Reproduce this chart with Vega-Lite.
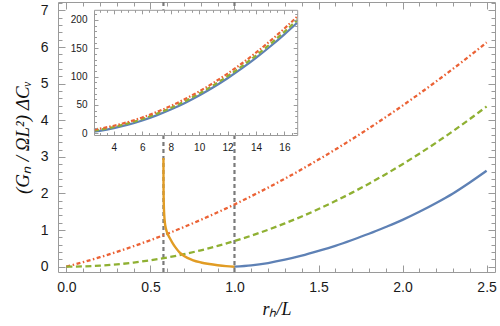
{
  "$schema": "https://vega.github.io/schema/vega-lite/v6.json",
  "width": 437,
  "height": 270,
  "autosize": {"type": "none"},
  "padding": {"left": 58, "top": 2, "right": 5, "bottom": 54},
  "config": {
    "view": {"stroke": null},
    "axis": {
      "grid": false,
      "domainColor": "#9a9a9a",
      "tickColor": "#9a9a9a",
      "domainWidth": 1,
      "tickWidth": 1,
      "labelFont": "Liberation Sans",
      "labelColor": "#1a1a1a",
      "labelFontSize": 14,
      "titleFont": "Liberation Serif",
      "titleFontStyle": "italic",
      "titleFontWeight": "normal",
      "titleColor": "#111111",
      "titleFontSize": 19
    }
  },
  "datasets": {
    "vlines": [{"x": 0.57735}, {"x": 1.0}],
    "main": [
      {"x": 0.0, "y": 0.0, "s": "red"}, {"x": 0.1, "y": 0.125, "s": "red"}, {"x": 0.2, "y": 0.26, "s": "red"}, {"x": 0.3, "y": 0.405, "s": "red"}, {"x": 0.4, "y": 0.56, "s": "red"}, {"x": 0.5, "y": 0.725, "s": "red"}, {"x": 0.6, "y": 0.9, "s": "red"}, {"x": 0.7, "y": 1.085, "s": "red"}, {"x": 0.8, "y": 1.28, "s": "red"}, {"x": 0.9, "y": 1.485, "s": "red"}, {"x": 1.0, "y": 1.7, "s": "red"}, {"x": 1.1, "y": 1.925, "s": "red"}, {"x": 1.2, "y": 2.16, "s": "red"}, {"x": 1.3, "y": 2.405, "s": "red"}, {"x": 1.4, "y": 2.66, "s": "red"}, {"x": 1.5, "y": 2.925, "s": "red"}, {"x": 1.6, "y": 3.2, "s": "red"}, {"x": 1.7, "y": 3.485, "s": "red"}, {"x": 1.8, "y": 3.78, "s": "red"}, {"x": 1.9, "y": 4.085, "s": "red"}, {"x": 2.0, "y": 4.4, "s": "red"}, {"x": 2.1, "y": 4.725, "s": "red"}, {"x": 2.2, "y": 5.06, "s": "red"}, {"x": 2.3, "y": 5.405, "s": "red"}, {"x": 2.4, "y": 5.76, "s": "red"}, {"x": 2.5, "y": 6.125, "s": "red"},
      {"x": 0.0, "y": 0.0, "s": "green"}, {"x": 0.1, "y": 0.007, "s": "green"}, {"x": 0.2, "y": 0.028, "s": "green"}, {"x": 0.3, "y": 0.063, "s": "green"}, {"x": 0.4, "y": 0.112, "s": "green"}, {"x": 0.5, "y": 0.175, "s": "green"}, {"x": 0.6, "y": 0.252, "s": "green"}, {"x": 0.7, "y": 0.343, "s": "green"}, {"x": 0.8, "y": 0.448, "s": "green"}, {"x": 0.9, "y": 0.567, "s": "green"}, {"x": 1.0, "y": 0.7, "s": "green"}, {"x": 1.1, "y": 0.847, "s": "green"}, {"x": 1.2, "y": 1.008, "s": "green"}, {"x": 1.3, "y": 1.183, "s": "green"}, {"x": 1.4, "y": 1.372, "s": "green"}, {"x": 1.5, "y": 1.575, "s": "green"}, {"x": 1.6, "y": 1.792, "s": "green"}, {"x": 1.7, "y": 2.023, "s": "green"}, {"x": 1.8, "y": 2.268, "s": "green"}, {"x": 1.9, "y": 2.527, "s": "green"}, {"x": 2.0, "y": 2.8, "s": "green"}, {"x": 2.1, "y": 3.087, "s": "green"}, {"x": 2.2, "y": 3.388, "s": "green"}, {"x": 2.3, "y": 3.703, "s": "green"}, {"x": 2.4, "y": 4.032, "s": "green"}, {"x": 2.5, "y": 4.375, "s": "green"},
      {"x": 1.0, "y": 0.0, "s": "blue"}, {"x": 1.1, "y": 0.035, "s": "blue"}, {"x": 1.2, "y": 0.1, "s": "blue"}, {"x": 1.3, "y": 0.19, "s": "blue"}, {"x": 1.4, "y": 0.3, "s": "blue"}, {"x": 1.5, "y": 0.43, "s": "blue"}, {"x": 1.6, "y": 0.57, "s": "blue"}, {"x": 1.7, "y": 0.73, "s": "blue"}, {"x": 1.8, "y": 0.9, "s": "blue"}, {"x": 1.9, "y": 1.085, "s": "blue"}, {"x": 2.0, "y": 1.28, "s": "blue"}, {"x": 2.1, "y": 1.5, "s": "blue"}, {"x": 2.2, "y": 1.74, "s": "blue"}, {"x": 2.3, "y": 2.0, "s": "blue"}, {"x": 2.4, "y": 2.3, "s": "blue"}, {"x": 2.5, "y": 2.62, "s": "blue"},
      {"x": 0.5774, "y": 2.97, "s": "orange"}, {"x": 0.5776, "y": 2.5, "s": "orange"}, {"x": 0.578, "y": 2.1, "s": "orange"}, {"x": 0.5795, "y": 1.7, "s": "orange"}, {"x": 0.582, "y": 1.42, "s": "orange"}, {"x": 0.586, "y": 1.2, "s": "orange"}, {"x": 0.592, "y": 1.04, "s": "orange"}, {"x": 0.6, "y": 0.92, "s": "orange"}, {"x": 0.614, "y": 0.79, "s": "orange"}, {"x": 0.63, "y": 0.66, "s": "orange"}, {"x": 0.65, "y": 0.52, "s": "orange"}, {"x": 0.673, "y": 0.39, "s": "orange"}, {"x": 0.7, "y": 0.29, "s": "orange"}, {"x": 0.75, "y": 0.18, "s": "orange"}, {"x": 0.8, "y": 0.115, "s": "orange"}, {"x": 0.85, "y": 0.072, "s": "orange"}, {"x": 0.9, "y": 0.04, "s": "orange"}, {"x": 0.95, "y": 0.015, "s": "orange"}, {"x": 1.0, "y": 0.0, "s": "orange"}
    ],
    "box": [{"x0": 2.6, "x1": 16.9, "y0": -3, "y1": 218}],
    "inset": [
      {"x": 2.6, "y": 2.93, "s": "blue"}, {"x": 3, "y": 4.42, "s": "blue"}, {"x": 4, "y": 9.12, "s": "blue"}, {"x": 5, "y": 15.22, "s": "blue"}, {"x": 6, "y": 22.72, "s": "blue"}, {"x": 7, "y": 31.62, "s": "blue"}, {"x": 8, "y": 41.92, "s": "blue"}, {"x": 9, "y": 53.62, "s": "blue"}, {"x": 10, "y": 66.72, "s": "blue"}, {"x": 11, "y": 81.22, "s": "blue"}, {"x": 12, "y": 97.12, "s": "blue"}, {"x": 13, "y": 114.42, "s": "blue"}, {"x": 14, "y": 133.12, "s": "blue"}, {"x": 15, "y": 153.22, "s": "blue"}, {"x": 16, "y": 174.72, "s": "blue"}, {"x": 16.9, "y": 195.24, "s": "blue"},
      {"x": 2.6, "y": 4.73, "s": "green"}, {"x": 3, "y": 6.3, "s": "green"}, {"x": 4, "y": 11.2, "s": "green"}, {"x": 5, "y": 17.5, "s": "green"}, {"x": 6, "y": 25.2, "s": "green"}, {"x": 7, "y": 34.3, "s": "green"}, {"x": 8, "y": 44.8, "s": "green"}, {"x": 9, "y": 56.7, "s": "green"}, {"x": 10, "y": 70.0, "s": "green"}, {"x": 11, "y": 84.7, "s": "green"}, {"x": 12, "y": 100.8, "s": "green"}, {"x": 13, "y": 118.3, "s": "green"}, {"x": 14, "y": 137.2, "s": "green"}, {"x": 15, "y": 157.5, "s": "green"}, {"x": 16, "y": 179.2, "s": "green"}, {"x": 16.9, "y": 199.9, "s": "green"},
      {"x": 2.6, "y": 6.51, "s": "red"}, {"x": 3, "y": 8.2, "s": "red"}, {"x": 4, "y": 13.4, "s": "red"}, {"x": 5, "y": 20.0, "s": "red"}, {"x": 6, "y": 28.0, "s": "red"}, {"x": 7, "y": 37.4, "s": "red"}, {"x": 8, "y": 48.2, "s": "red"}, {"x": 9, "y": 60.4, "s": "red"}, {"x": 10, "y": 74.0, "s": "red"}, {"x": 11, "y": 89.0, "s": "red"}, {"x": 12, "y": 105.4, "s": "red"}, {"x": 13, "y": 123.2, "s": "red"}, {"x": 14, "y": 142.4, "s": "red"}, {"x": 15, "y": 163.0, "s": "red"}, {"x": 16, "y": 185.0, "s": "red"}, {"x": 16.9, "y": 206.0, "s": "red"}
    ]
  },
  "layer": [
    {
      "layer": [
        {
          "data": {"name": "vlines"},
          "mark": {"type": "rule", "color": "#7a7a7a", "strokeWidth": 2.2, "strokeDash": [4, 3]},
          "encoding": {
            "x": {"field": "x", "type": "quantitative",
              "scale": {"domain": [-0.05, 2.55], "nice": false, "zero": false},
              "axis": {"orient": "bottom", "values": [0, 0.5, 1, 1.5, 2, 2.5], "format": ".1f", "tickSize": -7, "labelPadding": 15, "title": "rₕ/L", "titleFontSize": 18, "titlePadding": 6}}
          }
        },
        {
          "data": {"name": "main"},
          "transform": [{"filter": "datum.s === 'red'"}],
          "mark": {"type": "line", "color": "#EB6235", "strokeWidth": 2.3, "strokeDash": [4, 2.5, 1.5, 2.5], "interpolate": "monotone", "clip": true},
          "encoding": {
            "x": {"field": "x", "type": "quantitative",
              "scale": {"domain": [-0.05, 2.55], "nice": false, "zero": false},
              "axis": {"orient": "top", "values": [0, 0.5, 1, 1.5, 2, 2.5], "labels": false, "tickSize": -7, "title": null}},
            "y": {"field": "y", "type": "quantitative",
              "scale": {"domain": [-0.145, 7.23], "nice": false, "zero": false},
              "axis": {"orient": "left", "values": [0, 1, 2, 3, 4, 5, 6, 7], "tickSize": -7, "labelPadding": 17, "title": "(Gₙ / ΩL²) ΔCᵥ", "titlePadding": 8}}
          }
        },
        {
          "data": {"name": "main"},
          "transform": [{"filter": "datum.s === 'green'"}],
          "mark": {"type": "line", "color": "#8FB032", "strokeWidth": 2.3, "strokeDash": [6, 3.5], "interpolate": "monotone", "clip": true},
          "encoding": {
            "x": {"field": "x", "type": "quantitative",
              "scale": {"domain": [-0.05, 2.55], "nice": false, "zero": false},
              "axis": {"orient": "bottom", "values": [0.1, 0.2, 0.3, 0.4, 0.6, 0.7, 0.8, 0.9, 1.1, 1.2, 1.3, 1.4, 1.6, 1.7, 1.8, 1.9, 2.1, 2.2, 2.3, 2.4], "labels": false, "domain": false, "tickSize": -4, "title": null}},
            "y": {"field": "y", "type": "quantitative",
              "scale": {"domain": [-0.145, 7.23], "nice": false, "zero": false},
              "axis": {"orient": "left", "values": [0.2, 0.4, 0.6, 0.8, 1.2, 1.4, 1.6, 1.8, 2.2, 2.4, 2.6, 2.8, 3.2, 3.4, 3.6, 3.8, 4.2, 4.4, 4.6, 4.8, 5.2, 5.4, 5.6, 5.8, 6.2, 6.4, 6.6, 6.8, 7.2], "labels": false, "domain": false, "tickSize": -4, "title": null}}
          }
        },
        {
          "data": {"name": "main"},
          "transform": [{"filter": "datum.s === 'blue'"}],
          "mark": {"type": "line", "color": "#5E81B5", "strokeWidth": 2.3, "interpolate": "monotone", "clip": true},
          "encoding": {
            "x": {"field": "x", "type": "quantitative",
              "scale": {"domain": [-0.05, 2.55], "nice": false, "zero": false},
              "axis": {"orient": "top", "values": [0.1, 0.2, 0.3, 0.4, 0.6, 0.7, 0.8, 0.9, 1.1, 1.2, 1.3, 1.4, 1.6, 1.7, 1.8, 1.9, 2.1, 2.2, 2.3, 2.4], "labels": false, "domain": false, "tickSize": -4, "title": null}},
            "y": {"field": "y", "type": "quantitative",
              "scale": {"domain": [-0.145, 7.23], "nice": false, "zero": false},
              "axis": {"orient": "right", "values": [0, 1, 2, 3, 4, 5, 6, 7], "labels": false, "tickSize": -7, "title": null}}
          }
        },
        {
          "data": {"name": "main"},
          "transform": [{"filter": "datum.s === 'orange'"}],
          "mark": {"type": "line", "color": "#E19C24", "strokeWidth": 2.4, "interpolate": "monotone", "clip": true},
          "encoding": {
            "x": {"field": "x", "type": "quantitative",
              "scale": {"domain": [-0.05, 2.55], "nice": false, "zero": false},
              "axis": null},
            "y": {"field": "y", "type": "quantitative",
              "scale": {"domain": [-0.145, 7.23], "nice": false, "zero": false},
              "axis": {"orient": "right", "values": [0.2, 0.4, 0.6, 0.8, 1.2, 1.4, 1.6, 1.8, 2.2, 2.4, 2.6, 2.8, 3.2, 3.4, 3.6, 3.8, 4.2, 4.4, 4.6, 4.8, 5.2, 5.4, 5.6, 5.8, 6.2, 6.4, 6.6, 6.8, 7.2], "labels": false, "domain": false, "tickSize": -4, "title": null}}
          }
        }
      ],
      "resolve": {"axis": {"x": "independent", "y": "independent"}}
    },
    {
      "layer": [
        {
          "data": {"name": "box"},
          "mark": {"type": "rect", "fill": "white"},
          "encoding": {
            "x": {"field": "x0", "type": "quantitative",
              "scale": {"domain": [2.6, 16.9], "range": [36, 239.2], "nice": false, "zero": false},
              "axis": {"orient": "bottom", "offset": -137, "zindex": 1, "values": [4, 6, 8, 10, 12, 14, 16], "tickSize": -4, "labelPadding": 11, "labelFontSize": 10, "title": null}},
            "x2": {"field": "x1"},
            "y": {"field": "y0", "type": "quantitative",
              "scale": {"domain": [-3, 218], "range": [133, 7.8], "nice": false, "zero": false},
              "axis": {"orient": "left", "offset": -36, "zindex": 1, "values": [0, 50, 100, 150, 200], "tickSize": -4, "labelPadding": 11, "labelFontSize": 10, "title": null}},
            "y2": {"field": "y1"}
          }
        },
        {
          "data": {"name": "inset"},
          "transform": [{"filter": "datum.s === 'blue'"}],
          "mark": {"type": "line", "color": "#5E81B5", "strokeWidth": 2.2, "interpolate": "monotone"},
          "encoding": {
            "x": {"field": "x", "type": "quantitative",
              "scale": {"domain": [2.6, 16.9], "range": [36, 239.2], "nice": false, "zero": false},
              "axis": {"orient": "top", "offset": -7.8, "zindex": 1, "values": [4, 6, 8, 10, 12, 14, 16], "labels": false, "tickSize": -4, "title": null}},
            "y": {"field": "y", "type": "quantitative",
              "scale": {"domain": [-3, 218], "range": [133, 7.8], "nice": false, "zero": false},
              "axis": {"orient": "right", "offset": -197.8, "zindex": 1, "values": [0, 50, 100, 150, 200], "labels": false, "tickSize": -4, "title": null}}
          }
        },
        {
          "data": {"name": "inset"},
          "transform": [{"filter": "datum.s === 'green'"}],
          "mark": {"type": "line", "color": "#8FB032", "strokeWidth": 2.2, "strokeDash": [5, 3], "interpolate": "monotone"},
          "encoding": {
            "x": {"field": "x", "type": "quantitative",
              "scale": {"domain": [2.6, 16.9], "range": [36, 239.2], "nice": false, "zero": false},
              "axis": {"orient": "bottom", "offset": -137, "zindex": 1, "values": [3, 3.5, 4.5, 5, 5.5, 6.5, 7, 7.5, 8.5, 9, 9.5, 10.5, 11, 11.5, 12.5, 13, 13.5, 14.5, 15, 15.5, 16.5], "labels": false, "domain": false, "tickSize": -2.5, "title": null}},
            "y": {"field": "y", "type": "quantitative",
              "scale": {"domain": [-3, 218], "range": [133, 7.8], "nice": false, "zero": false},
              "axis": {"orient": "left", "offset": -36, "zindex": 1, "values": [10, 20, 30, 40, 60, 70, 80, 90, 110, 120, 130, 140, 160, 170, 180, 190, 210], "labels": false, "domain": false, "tickSize": -2.5, "title": null}}
          }
        },
        {
          "data": {"name": "inset"},
          "transform": [{"filter": "datum.s === 'red'"}],
          "mark": {"type": "line", "color": "#EB6235", "strokeWidth": 2.2, "strokeDash": [4, 2, 1.5, 2], "interpolate": "monotone"},
          "encoding": {
            "x": {"field": "x", "type": "quantitative",
              "scale": {"domain": [2.6, 16.9], "range": [36, 239.2], "nice": false, "zero": false},
              "axis": {"orient": "top", "offset": -7.8, "zindex": 1, "values": [3, 3.5, 4.5, 5, 5.5, 6.5, 7, 7.5, 8.5, 9, 9.5, 10.5, 11, 11.5, 12.5, 13, 13.5, 14.5, 15, 15.5, 16.5], "labels": false, "domain": false, "tickSize": -2.5, "title": null}},
            "y": {"field": "y", "type": "quantitative",
              "scale": {"domain": [-3, 218], "range": [133, 7.8], "nice": false, "zero": false},
              "axis": {"orient": "right", "offset": -197.8, "zindex": 1, "values": [10, 20, 30, 40, 60, 70, 80, 90, 110, 120, 130, 140, 160, 170, 180, 190, 210], "labels": false, "domain": false, "tickSize": -2.5, "title": null}}
          }
        }
      ],
      "resolve": {"axis": {"x": "independent", "y": "independent"}}
    }
  ],
  "resolve": {"scale": {"x": "independent", "y": "independent"}, "axis": {"x": "independent", "y": "independent"}}
}
